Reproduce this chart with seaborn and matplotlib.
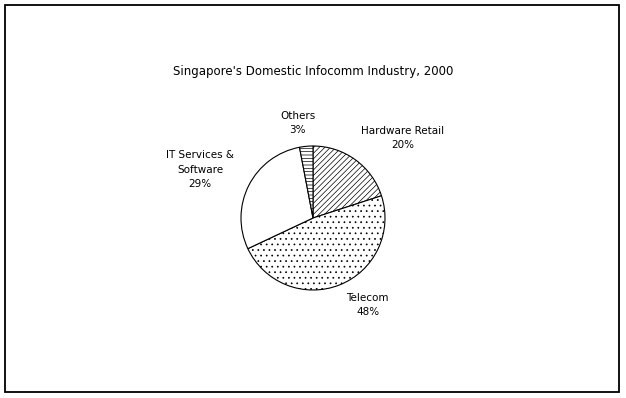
import matplotlib
matplotlib.use("Agg")
import matplotlib.pyplot as plt
import seaborn as sns
from matplotlib.patches import Rectangle

# share of the domestic infocomm industry, 2000 (clockwise from 12 o'clock)
categories = ['Hardware Retail', 'Telecom', 'IT Services &\nSoftware', 'Others']
shares = [20, 48, 29, 3]
hatches = ['//////', '...', '', '-----']

sns.set_theme(style='white')
plt.rcParams['font.family'] = ['DejaVu Sans']
plt.rcParams['text.color'] = 'black'
plt.rcParams['hatch.linewidth'] = 0.5

W, H = 626, 398
fig = plt.figure(figsize=(W / 100, H / 100), dpi=100)
fig.patch.set_facecolor('white')

# outer frame round the chart area
fig.patches.append(Rectangle((5 / W, 6 / H), 614 / W, 387 / H, transform=fig.transFigure,
                             fill=False, edgecolor='black', linewidth=1.3))

# square axes holding the pie, centre at (313, 218) px, radius 72 px
cx, cy, r = 313, 218, 72
ax = fig.add_axes([(cx - r) / W, (H - cy - r) / H, 2 * r / W, 2 * r / H])
wedges, _ = ax.pie(shares, startangle=90, counterclock=False, colors=['white'] * 4,
                   wedgeprops=dict(edgecolor='black', linewidth=0.8))
for w, h in zip(wedges, hatches):
    w.set_hatch(h)
ax.set_xlim(-1, 1)
ax.set_ylim(-1, 1)
ax.set_aspect('equal')
ax.axis('off')

# label positions in pie units
label_pos = [(1.24, 1.11), (0.76, -1.21), (-1.57, 0.67), (-0.21, 1.32)]
for name, val, (lx, ly) in zip(categories, shares, label_pos):
    ax.text(lx, ly, f'{name}\n{val}%', ha='center', va='center', fontsize=7.5,
            linespacing=1.55, clip_on=False)

fig.text(313 / W, 1 - 72 / H, "Singapore's Domestic Infocomm Industry, 2000",
         ha='center', va='center', fontsize=8.5)

fig.savefig('out.png', dpi=100)
